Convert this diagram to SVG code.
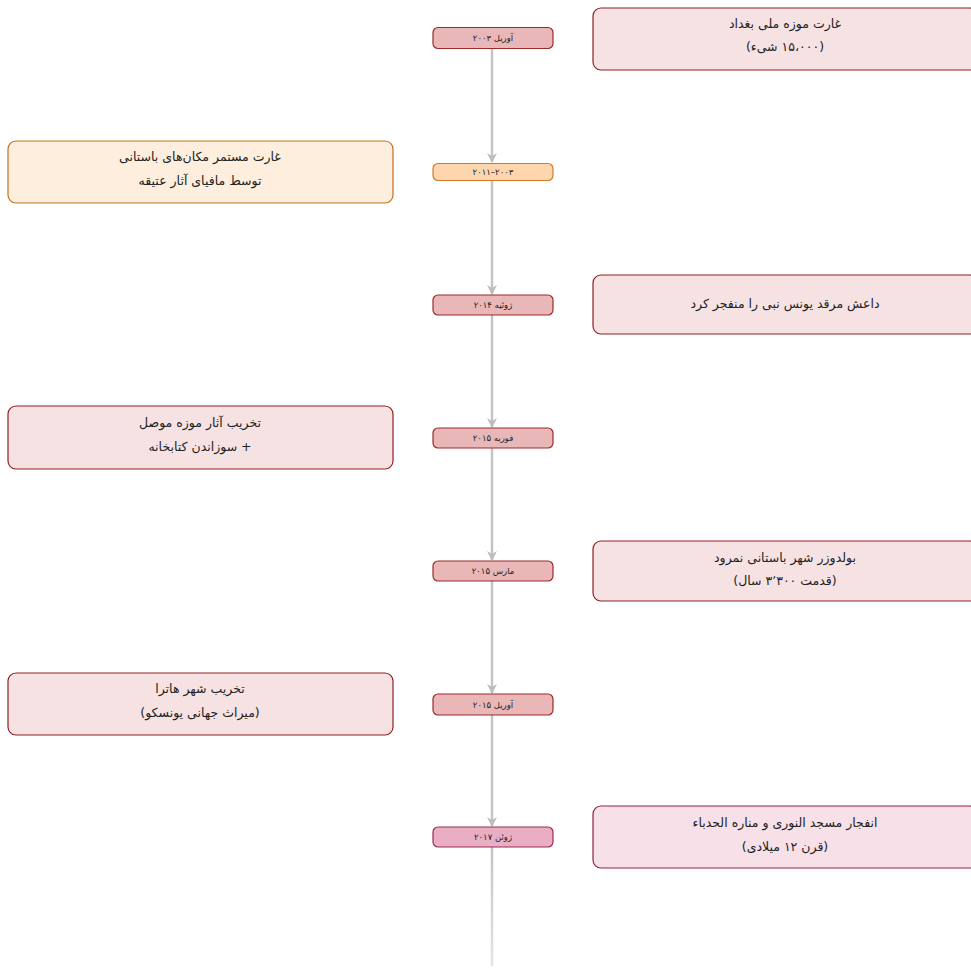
<svg xmlns="http://www.w3.org/2000/svg" width="971" height="969" viewBox="0 0 971 969">
<defs>
<marker id="ah" viewBox="0 0 10 10" refX="9" refY="5" markerWidth="4" markerHeight="4" orient="auto" markerUnits="strokeWidth">
<path d="M0,0 L10,5 L0,10 L3,5 z" fill="#bdbdbd"/>
</marker>
<linearGradient id="fade" gradientUnits="userSpaceOnUse" x1="0" y1="847" x2="0" y2="966">
<stop offset="0" stop-color="#c4c4c4"/>
<stop offset="1" stop-color="#e4e4e4"/>
</linearGradient>
<style>
.ev{fill:#f6e2e2;stroke:#8e2222;stroke-width:1.2}
.ev2{fill:#fdeede;stroke:#c0701e;stroke-width:1.2}
.ev3{fill:#f7e0e8;stroke:#8e2244;stroke-width:1.2}
.dt{fill:#e9b7b7;stroke:#9c2a2a;stroke-width:1.2}
.dt2{fill:#fdd6ae;stroke:#cf7a28;stroke-width:1.2}
.dt3{fill:#eaaec4;stroke:#9c2a55;stroke-width:1.2}
.et{font-family:"DejaVu Sans",sans-serif;font-size:12.5px;fill:#222;text-anchor:middle;direction:rtl}
.dtt{font-family:"DejaVu Sans",sans-serif;font-size:8.5px;fill:#222;text-anchor:middle;direction:rtl}
.ln{stroke:#c4c4c4;stroke-width:2.5;fill:none}
</style>
</defs>
<g id="connectors">
<line class="ln" x1="492" y1="49" x2="492" y2="162" marker-end="url(#ah)"/>
<line class="ln" x1="492" y1="181" x2="492" y2="294" marker-end="url(#ah)"/>
<line class="ln" x1="492" y1="315" x2="492" y2="427" marker-end="url(#ah)"/>
<line class="ln" x1="492" y1="448" x2="492" y2="560" marker-end="url(#ah)"/>
<line class="ln" x1="492" y1="581" x2="492" y2="693" marker-end="url(#ah)"/>
<line class="ln" x1="492" y1="715" x2="492" y2="826" marker-end="url(#ah)"/>
<line x1="492" y1="847" x2="492" y2="966" stroke="url(#fade)" stroke-width="2.5"/>
</g>
<g id="d1"><rect class="dt" x="433" y="27.5" width="120" height="21" rx="5"/><text class="dtt" x="493" y="41">آوریل ۲۰۰۳</text></g>
<g id="e1"><rect class="ev" x="593" y="8" width="385" height="62" rx="8"/><text class="et" x="785" y="28">غارت موزه ملی بغداد</text><text class="et" x="785" y="51">(۱۵،۰۰۰  شیء)</text></g>
<g id="d2"><rect class="dt2" x="433" y="163.5" width="120" height="17" rx="5"/><text class="dtt" x="493" y="175" style="direction:ltr">۲۰۱۱–۲۰۰۳</text></g>
<g id="e2"><rect class="ev2" x="8" y="141" width="385" height="62" rx="8"/><text class="et" x="200" y="161">غارت مستمر مکان‌های باستانی</text><text class="et" x="200" y="185">توسط مافیای آثار عتیقه</text></g>
<g id="d3"><rect class="dt" x="433" y="295" width="120" height="20" rx="5"/><text class="dtt" x="493" y="308">ژوئیه ۲۰۱۴</text></g>
<g id="e3"><rect class="ev" x="593" y="275" width="385" height="59" rx="8"/><text class="et" x="785" y="308">داعش مرقد یونس نبی را منفجر کرد</text></g>
<g id="d4"><rect class="dt" x="433" y="428" width="120" height="20" rx="5"/><text class="dtt" x="493" y="441">فوریه ۲۰۱۵</text></g>
<g id="e4"><rect class="ev" x="8" y="406" width="385" height="63" rx="8"/><text class="et" x="200" y="427">تخریب آثار موزه موصل</text><text class="et" x="200" y="451">+ سوزاندن کتابخانه</text></g>
<g id="d5"><rect class="dt" x="433" y="561" width="120" height="20" rx="5"/><text class="dtt" x="493" y="574">مارس ۲۰۱۵</text></g>
<g id="e5"><rect class="ev" x="593" y="541" width="385" height="60" rx="8"/><text class="et" x="785" y="562">بولدوزر شهر باستانی نمرود</text><text class="et" x="785" y="585">(قدمت  ۳٬۳۰۰ سال)</text></g>
<g id="d6"><rect class="dt" x="433" y="694" width="120" height="21" rx="5"/><text class="dtt" x="493" y="707.5">آوریل ۲۰۱۵</text></g>
<g id="e6"><rect class="ev" x="8" y="673" width="385" height="62" rx="8"/><text class="et" x="200" y="693">تخریب شهر هاترا</text><text class="et" x="200" y="717">(میراث جهانی یونسکو)</text></g>
<g id="d7"><rect class="dt3" x="433" y="827" width="120" height="20" rx="5"/><text class="dtt" x="493" y="840">ژوئن ۲۰۱۷</text></g>
<g id="e7"><rect class="ev3" x="593" y="806" width="385" height="62" rx="8"/><text class="et" x="785" y="827">انفجار مسجد النوری و مناره الحدباء</text><text class="et" x="785" y="851">(قرن ۱۲ میلادی)</text></g>
</svg>
